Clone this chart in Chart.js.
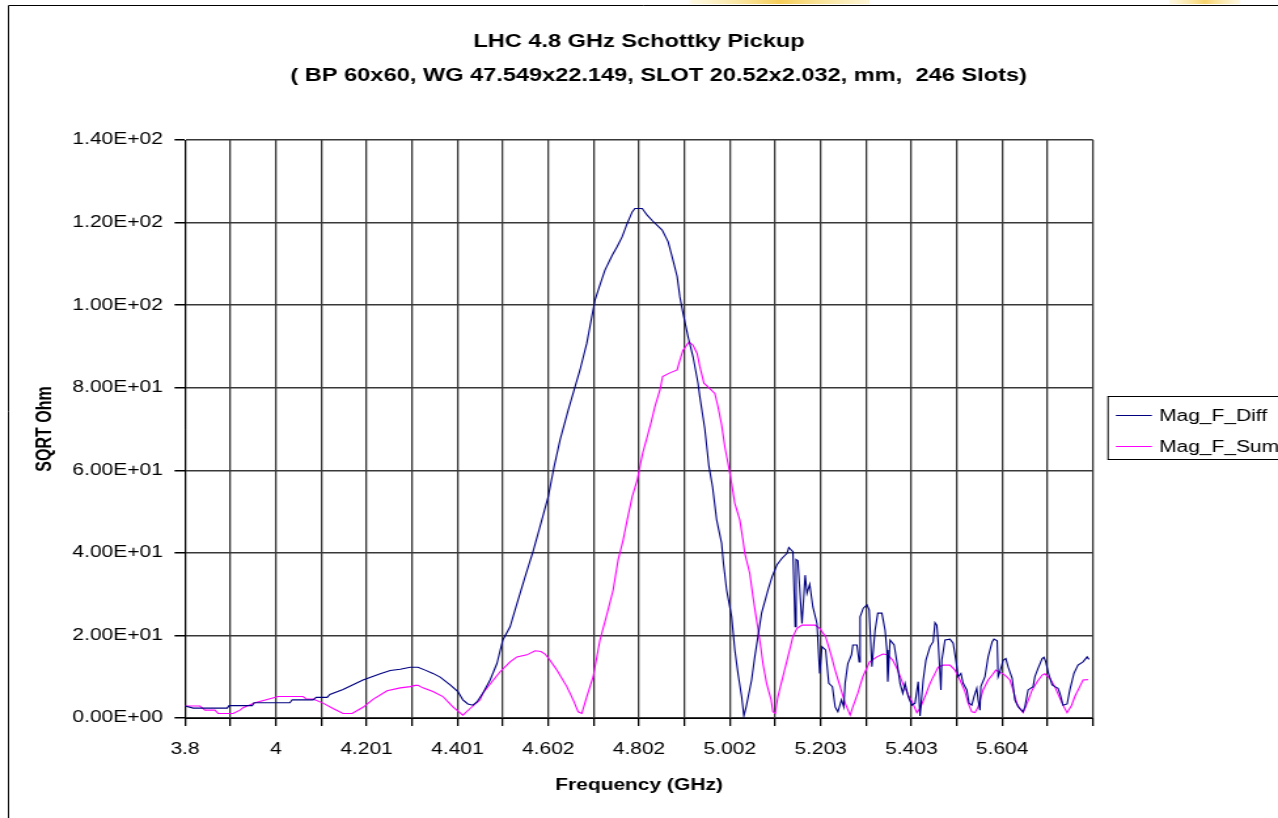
<!DOCTYPE html>
<html>
<head>
<meta charset="utf-8">
<script src="https://cdn.jsdelivr.net/npm/chart.js@4/dist/chart.umd.min.js"></script>
<style>
  html, body { margin: 0; padding: 0; background: #fff; overflow: hidden; }
  /* the reference is an Excel chart stretched sideways, so the canvas is drawn narrow and widened by CSS */
  #chart { display: block; width: 1278px !important; height: 818px !important; }
</style>
</head>
<body>
<canvas id="chart" width="976" height="818" style="width:1278px;height:818px"></canvas>
<script>
// tick labels as printed on the axes
const xTickLabels = ['3.8', '4', '4.201', '4.401', '4.602', '4.802', '5.002', '5.203', '5.403', '5.604'];
const yTickLabels = ['0.00E+00', '2.00E+01', '4.00E+01', '6.00E+01', '8.00E+01', '1.00E+02', '1.20E+02', '1.40E+02'];

// Mag_F_Diff (GHz, SQRT Ohm)
const diffFreq = [
  3.800, 3.818, 3.893, 3.897, 3.948, 3.952, 4.031, 4.036, 4.082, 4.089, 4.113, 4.119, 4.148, 4.192, 4.230, 4.252,
  4.274, 4.296, 4.313, 4.329, 4.346, 4.362, 4.384, 4.401, 4.412, 4.423, 4.434, 4.443, 4.456, 4.472, 4.487, 4.500,
  4.516, 4.527, 4.538, 4.549, 4.567, 4.586, 4.600, 4.613, 4.626, 4.644, 4.659, 4.670, 4.685, 4.696, 4.703, 4.714,
  4.725, 4.741, 4.752, 4.763, 4.774, 4.785, 4.791, 4.807, 4.818, 4.829, 4.851, 4.864, 4.873, 4.884, 4.890, 4.897,
  4.908, 4.919, 4.930, 4.934, 4.945, 4.954, 4.962, 4.971, 4.982, 4.986, 4.993, 5.004, 5.011, 5.018, 5.026, 5.031,
  5.036, 5.048, 5.055, 5.070, 5.084, 5.093, 5.104, 5.115, 5.126, 5.130, 5.139, 5.144, 5.146, 5.150, 5.159, 5.166,
  5.170, 5.176, 5.183, 5.192, 5.198, 5.203, 5.211, 5.218, 5.226, 5.232, 5.238, 5.246, 5.251, 5.254, 5.260, 5.268,
  5.271, 5.280, 5.285, 5.287, 5.294, 5.302, 5.307, 5.313, 5.320, 5.326, 5.335, 5.342, 5.346, 5.348, 5.353, 5.362,
  5.368, 5.375, 5.381, 5.386, 5.393, 5.401, 5.408, 5.415, 5.419, 5.426, 5.432, 5.441, 5.448, 5.452, 5.456, 5.459,
  5.465, 5.467, 5.474, 5.485, 5.492, 5.498, 5.503, 5.509, 5.514, 5.522, 5.527, 5.533, 5.538, 5.544, 5.547, 5.551,
  5.553, 5.562, 5.569, 5.578, 5.582, 5.589, 5.591, 5.595, 5.602, 5.608, 5.613, 5.622, 5.628, 5.635, 5.646, 5.650,
  5.657, 5.668, 5.672, 5.679, 5.688, 5.692, 5.696, 5.701, 5.710, 5.716, 5.723, 5.727, 5.734, 5.743, 5.749, 5.758,
  5.767, 5.778, 5.787, 5.791
];
const diffVals = [
  2.9, 2.4, 2.4, 3.0, 3.0, 3.7, 3.7, 4.4, 4.4, 5.0, 5.0, 5.7, 6.9, 9.2, 10.7, 11.5,
  11.8, 12.3, 12.3, 11.6, 10.8, 9.9, 8.0, 6.4, 4.4, 3.4, 3.1, 3.9, 6.0, 9.2, 13.2, 18.9,
  22.1, 26.2, 30.2, 34.2, 40.5, 48.0, 53.6, 60.9, 67.3, 74.6, 80.2, 84.3, 90.8, 97.2, 101.2, 104.9,
  108.5, 112.1, 114.2, 116.6, 119.8, 122.6, 123.4, 123.4, 121.8, 120.5, 118.2, 115.4, 111.7, 106.9, 102.0, 98.0,
  92.4, 87.5, 81.1, 77.8, 70.0, 61.0, 56.0, 48.0, 42.3, 37.5, 31.0, 24.5, 16.5, 10.8, 5.2, 0.5,
  2.7, 9.2, 14.8, 25.4, 31.0, 34.2, 37.1, 38.7, 39.9, 41.3, 40.3, 22.1, 38.4, 38.1, 22.9, 34.6,
  30.2, 32.4, 26.9, 22.9, 10.8, 17.3, 16.5, 8.4, 7.6, 2.7, 1.5, 4.4, 2.7, 8.4, 13.2, 15.3,
  17.7, 17.7, 13.6, 24.5, 26.6, 27.4, 26.2, 12.4, 21.3, 25.4, 25.4, 21.3, 16.5, 8.8, 18.9, 17.7,
  13.6, 8.4, 6.0, 8.4, 5.2, 3.1, 3.6, 8.8, 0.5, 9.2, 14.0, 17.3, 18.5, 23.1, 22.5, 18.5,
  6.8, 14.0, 18.9, 19.1, 18.1, 14.0, 10.0, 10.8, 8.4, 6.8, 3.6, 3.1, 5.2, 7.2, 4.4, 1.9,
  7.6, 10.0, 14.8, 18.5, 19.1, 18.7, 10.0, 11.2, 14.0, 14.4, 12.4, 9.6, 4.4, 2.7, 1.5, 2.7,
  6.8, 7.6, 10.0, 12.0, 14.4, 14.7, 13.6, 11.2, 8.0, 7.6, 7.2, 6.0, 3.1, 3.4, 6.8, 10.8,
  12.8, 13.6, 14.8, 14.2
];

// Mag_F_Sum (GHz, SQRT Ohm)
const sumFreq = [
  3.800, 3.833, 3.844, 3.866, 3.873, 3.906, 3.921, 3.928, 3.954, 3.981, 4.005, 4.060, 4.067, 4.082, 4.104, 4.126,
  4.148, 4.168, 4.192, 4.214, 4.245, 4.274, 4.296, 4.307, 4.313, 4.324, 4.346, 4.368, 4.390, 4.412, 4.428, 4.450,
  4.456, 4.476, 4.494, 4.516, 4.531, 4.553, 4.571, 4.584, 4.593, 4.604, 4.619, 4.641, 4.655, 4.666, 4.674, 4.685,
  4.699, 4.714, 4.729, 4.743, 4.754, 4.765, 4.774, 4.785, 4.796, 4.802, 4.808, 4.820, 4.828, 4.835, 4.846, 4.852,
  4.868, 4.884, 4.890, 4.897, 4.910, 4.919, 4.928, 4.934, 4.943, 4.956, 4.967, 4.974, 4.982, 4.989, 4.996, 5.004,
  5.011, 5.022, 5.029, 5.033, 5.044, 5.051, 5.059, 5.067, 5.073, 5.081, 5.091, 5.095, 5.100, 5.106, 5.117, 5.128,
  5.139, 5.148, 5.159, 5.188, 5.198, 5.211, 5.222, 5.232, 5.243, 5.254, 5.265, 5.271, 5.282, 5.293, 5.308, 5.324,
  5.337, 5.348, 5.359, 5.370, 5.381, 5.393, 5.403, 5.412, 5.419, 5.430, 5.441, 5.452, 5.459, 5.470, 5.485, 5.496,
  5.507, 5.518, 5.525, 5.533, 5.540, 5.547, 5.558, 5.569, 5.578, 5.586, 5.595, 5.606, 5.617, 5.624, 5.632, 5.639,
  5.646, 5.655, 5.666, 5.677, 5.688, 5.694, 5.705, 5.716, 5.727, 5.736, 5.743, 5.753, 5.760, 5.771, 5.778, 5.789
];
const sumVals = [
  2.9, 2.9, 1.9, 1.9, 1.1, 1.1, 1.9, 2.5, 3.7, 4.5, 5.2, 5.2, 4.6, 4.6, 3.6, 2.3,
  1.1, 1.1, 2.6, 4.5, 6.6, 7.3, 7.6, 7.9, 7.9, 7.3, 6.4, 5.2, 2.7, 0.7, 2.3, 4.4,
  6.0, 8.8, 11.2, 13.6, 14.8, 15.3, 16.3, 16.1, 15.5, 14.0, 11.6, 7.6, 4.4, 1.5, 1.1, 5.2,
  10.0, 18.9, 25.0, 31.0, 38.3, 43.1, 48.0, 53.6, 57.6, 60.9, 64.1, 68.9, 72.2, 75.4, 79.4, 82.7,
  83.6, 84.3, 86.7, 89.1, 91.1, 90.3, 88.3, 85.1, 81.1, 79.8, 78.6, 75.4, 71.0, 65.7, 61.7, 56.8,
  52.0, 48.0, 43.1, 39.9, 35.0, 29.4, 23.7, 18.1, 13.2, 8.4, 4.4, 1.5, 1.1, 5.2, 10.0, 14.8,
  19.7, 21.7, 22.5, 22.5, 21.7, 19.7, 15.7, 11.6, 7.6, 3.6, 0.7, 2.7, 6.0, 10.0, 13.6, 14.8,
  15.5, 15.3, 14.0, 11.6, 8.4, 5.6, 3.6, 1.3, 2.3, 5.2, 8.4, 10.8, 12.3, 12.8, 12.8, 11.6,
  9.2, 6.4, 3.6, 1.5, 1.3, 2.7, 6.8, 9.2, 10.4, 11.6, 11.1, 10.4, 9.2, 6.8, 3.6, 2.3,
  1.3, 3.6, 6.8, 8.8, 10.4, 10.7, 9.6, 7.6, 4.8, 2.7, 1.3, 3.1, 5.2, 7.6, 9.2, 9.3
];

const FONT = '"Liberation Sans", Arial, sans-serif';
const GRID = '#383838';

const toPoints = (xs, ys) => xs.map((x, i) => ({ x: x, y: ys[i] }));

// white page, the thin outer frame and the yellow scraps along the top edge
const framePlugin = {
    id: 'frame',
    beforeDraw(chart) {
        const ctx = chart.ctx;
        ctx.save();
        ctx.fillStyle = '#ffffff';
        ctx.fillRect(0, 0, chart.width, chart.height);
        const g1 = ctx.createLinearGradient(527, 0, 664, 0);
        g1.addColorStop(0, 'rgba(250,225,120,0.2)');
        g1.addColorStop(0.5, 'rgba(245,200,70,0.9)');
        g1.addColorStop(1, 'rgba(250,225,120,0.3)');
        ctx.fillStyle = g1;
        ctx.fillRect(527, 0, 137, 4);
        const g2 = ctx.createLinearGradient(893, 0, 947, 0);
        g2.addColorStop(0, 'rgba(250,225,120,0.2)');
        g2.addColorStop(0.5, 'rgba(245,200,70,0.8)');
        g2.addColorStop(1, 'rgba(250,225,120,0.2)');
        ctx.fillStyle = g2;
        ctx.fillRect(893, 0, 54, 4);
        ctx.strokeStyle = '#000000';
        ctx.lineWidth = 1;
        ctx.beginPath();
        ctx.moveTo(6.5, chart.height);
        ctx.lineTo(6.5, 5.5);
        ctx.lineTo(chart.width, 5.5);
        ctx.stroke();
        ctx.restore();
    }
};

// Excel-style boxed legend to the right of the plot, partly cut off by the page edge
const boxLegendPlugin = {
    id: 'boxLegend',
    afterDraw(chart) {
        const ctx = chart.ctx;
        const left = chart.chartArea.right + 11.5;
        const top = 396.5;
        ctx.save();
        ctx.strokeStyle = '#000000';
        ctx.lineWidth = 1;
        ctx.strokeRect(left, top, 200, 63);
        ctx.font = '16px ' + FONT;
        ctx.textBaseline = 'middle';
        ctx.textAlign = 'left';
        chart.data.datasets.forEach((ds, i) => {
            const y = 415.5 + i * 31;
            ctx.strokeStyle = ds.borderColor;
            ctx.beginPath();
            ctx.moveTo(left + 6, y);
            ctx.lineTo(left + 33.5, y);
            ctx.stroke();
            ctx.fillStyle = '#000000';
            ctx.fillText(ds.label, left + 39, y + 1);
        });
        ctx.restore();
    }
};

const ctx = document.getElementById('chart').getContext('2d');
new Chart(ctx, {
    type: 'line',
    data: {
        datasets: [
            {
                label: 'Mag_F_Diff',
                data: toPoints(diffFreq, diffVals),
                borderColor: '#000080',
                borderWidth: 1.1,
                pointRadius: 0,
                tension: 0,
                fill: false
            },
            {
                label: 'Mag_F_Sum',
                data: toPoints(sumFreq, sumVals),
                borderColor: '#ff00ff',
                borderWidth: 1.1,
                pointRadius: 0,
                tension: 0,
                fill: false
            }
        ]
    },
    options: {
        responsive: false,
        animation: false,
        devicePixelRatio: 1,
        layout: {
            padding: 0
        },
        scales: {
            x: {
                type: 'linear',
                min: 3.8,
                max: 5.8,
                afterFit: (scale) => { scale.height = 100; },
                ticks: {
                    stepSize: 0.1,
                    autoSkip: false,
                    maxRotation: 0,
                    padding: 14,
                    color: '#000000',
                    font: { family: FONT, size: 16 },
                    callback: (value, index) => (index % 2 === 0 ? (xTickLabels[index / 2] || '') : '')
                },
                grid: {
                    color: GRID,
                    lineWidth: 1.3,
                    tickColor: '#000000',
                    tickLength: 8
                },
                border: { color: '#000000', width: 1 },
                title: {
                    display: true,
                    text: 'Frequency (GHz)',
                    color: '#000000',
                    font: { family: FONT, size: 16, weight: 'bold' },
                    padding: { top: 0, bottom: 22.4 }
                }
            },
            y: {
                min: 0,
                max: 140,
                afterFit: (scale) => { scale.width = 141.3; },
                ticks: {
                    stepSize: 20,
                    padding: 9,
                    color: '#000000',
                    font: { family: FONT, size: 16 },
                    callback: (value, index) => yTickLabels[index]
                },
                grid: {
                    color: GRID,
                    lineWidth: 1.5,
                    tickColor: '#000000',
                    tickLength: 8
                },
                border: { color: '#000000', width: 1 },
                title: {
                    display: true,
                    text: 'SQRT Ohm',
                    color: '#000000',
                    font: { family: FONT, size: 16, weight: 'bold' },
                    padding: { top: 25, bottom: 0 }
                }
            },
            // empty right-hand box that keeps room for the legend while the title stays centred on the page
            legendRoom: {
                position: 'right',
                min: 0,
                max: 140,
                afterFit: (scale) => { scale.width = 141.3; },
                ticks: { display: false },
                grid: { display: false, drawTicks: false },
                border: { display: false }
            }
        },
        plugins: {
            legend: { display: false },
            tooltip: { enabled: false },
            title: {
                display: true,
                text: ['LHC 4.8 GHz Schottky Pickup', '      ( BP 60x60, WG 47.549x22.149, SLOT 20.52x2.032, mm,  246 Slots)'],
                color: '#000000',
                font: { family: FONT, size: 18, weight: 'bold', lineHeight: 1.89 },
                padding: { top: 25, bottom: 47 }
            }
        }
    },
    plugins: [framePlugin, boxLegendPlugin]
});
</script>
</body>
</html>
